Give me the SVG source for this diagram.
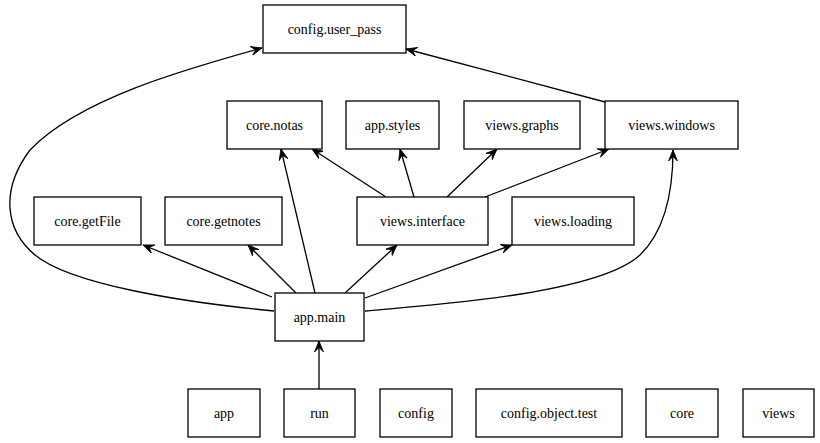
<svg xmlns="http://www.w3.org/2000/svg" width="820" height="443" viewBox="0 0 820 443">
<style>
.n rect{fill:#fff;stroke:#000;stroke-width:1.3}
text{font-family:'Liberation Serif','DejaVu Serif',serif;font-size:14px;text-anchor:middle;fill:#000}
.e path{fill:none;stroke:#000;stroke-width:1.3;marker-end:url(#vee)}
</style>
<defs>
<marker id="vee" markerUnits="userSpaceOnUse" viewBox="-11 -5 12 10" markerWidth="12" markerHeight="10" refX="0" refY="0" orient="auto">
<path d="M0,0 L-11,-4.5 L-6.5,0 L-11,4.5 Z" fill="#000" stroke="#000" stroke-width="0.8" stroke-linejoin="miter"/>
</marker>
</defs>
<rect width="820" height="443" fill="#fff"/>
<g class="e" id="edges">
<path d="M274,311 C180,302 70,284 35,255 C5,230 0,190 30,150 C80,98 190,68 262,48"/>
<path d="M605,102 L406,49"/>
<path d="M386,197 L312,149"/>
<path d="M414,197 L400,149"/>
<path d="M447,197 L497,149"/>
<path d="M485,197 L609,149"/>
<path d="M315,293 L281,149"/>
<path d="M272,297 L143,245"/>
<path d="M296,293 L248,245"/>
<path d="M345,293 L397,245"/>
<path d="M365,298 L512,245"/>
<path d="M365,311 C450,304 600,292 640,255 C668,228 673,185 673,150"/>
<path d="M319,389 L319,341"/>
</g>
<g class="n" id="config.user_pass"><rect x="263" y="5" width="143" height="48"/><text x="334.5" y="34" font-family="Liberation Serif">config.user_pass</text></g>
<g class="n" id="core.notas"><rect x="227" y="101" width="95" height="48"/><text x="274.5" y="130" font-family="Liberation Serif">core.notas</text></g>
<g class="n" id="app.styles"><rect x="346" y="101" width="93" height="48"/><text x="392.5" y="130" font-family="Liberation Serif">app.styles</text></g>
<g class="n" id="views.graphs"><rect x="464" y="101" width="116" height="48"/><text x="522" y="130" font-family="Liberation Serif">views.graphs</text></g>
<g class="n" id="views.windows"><rect x="605" y="101" width="133" height="48"/><text x="671.5" y="130" font-family="Liberation Serif">views.windows</text></g>
<g class="n" id="core.getFile"><rect x="34" y="197" width="107" height="48"/><text x="87.5" y="226" font-family="Liberation Serif">core.getFile</text></g>
<g class="n" id="core.getnotes"><rect x="165" y="197" width="117" height="48"/><text x="223.5" y="226" font-family="Liberation Serif">core.getnotes</text></g>
<g class="n" id="views.interface"><rect x="357" y="197" width="131" height="48"/><text x="422.5" y="226" font-family="Liberation Serif">views.interface</text></g>
<g class="n" id="views.loading"><rect x="512" y="197" width="122" height="48"/><text x="573" y="226" font-family="Liberation Serif">views.loading</text></g>
<g class="n" id="app.main"><rect x="275" y="293" width="89" height="48"/><text x="319.5" y="322" font-family="Liberation Serif">app.main</text></g>
<g class="n" id="app"><rect x="188" y="389" width="72" height="48"/><text x="224" y="418" font-family="Liberation Serif">app</text></g>
<g class="n" id="run"><rect x="284" y="389" width="71" height="48"/><text x="319.5" y="418" font-family="Liberation Serif">run</text></g>
<g class="n" id="config"><rect x="380" y="389" width="72" height="48"/><text x="416" y="418" font-family="Liberation Serif">config</text></g>
<g class="n" id="config.object.test"><rect x="476" y="389" width="146" height="48"/><text x="549" y="418" font-family="Liberation Serif">config.object.test</text></g>
<g class="n" id="core"><rect x="646" y="389" width="72" height="48"/><text x="682" y="418" font-family="Liberation Serif">core</text></g>
<g class="n" id="views"><rect x="743" y="389" width="71" height="48"/><text x="778.5" y="418" font-family="Liberation Serif">views</text></g>
</svg>
